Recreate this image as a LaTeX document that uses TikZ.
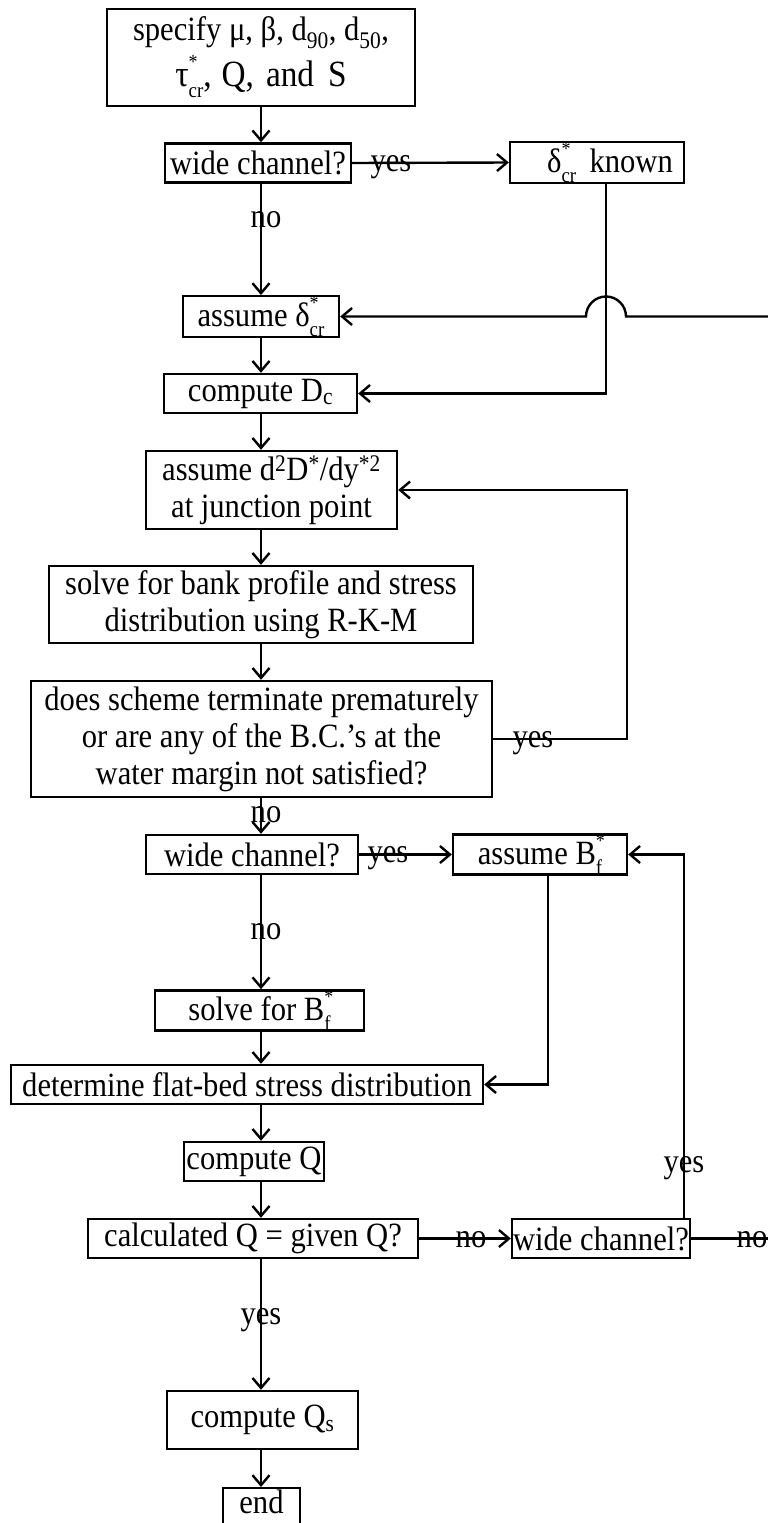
\documentclass[tikz,border=0pt]{standalone}
\usepackage{fontspec}
\setmainfont[FakeStretch=0.9]{Liberation Serif}
\usetikzlibrary{arrows.meta}
\newcommand{\supsub}[2]{\rlap{\raisebox{0.5em}{\fontsize{20}{20}\selectfont #1}}\raisebox{-0.3em}{\fontsize{21}{21}\selectfont #2}}

\begin{document}
\begin{tikzpicture}[x=1pt, y=-1pt, line width=2.4pt,
  every node/.style={font=\fontsize{34}{37}\selectfont, inner sep=0pt},
  stepbox/.style={draw, minimum height=39pt, align=center},
  lbl/.style={anchor=base},
  arr/.style={-{Straight Barb[length=10pt, width=17pt]}}]
  \useasboundingbox (0,0) rectangle (768,1523);
  \clip (0,0) rectangle (768,1523);

  % boxes
  \node[stepbox, minimum width=308pt, minimum height=97pt] (spec) at (261, 57.5)
    {specify μ, β, d\textsubscript{90}, d\textsubscript{50},\\[6pt]
     {\fontsize{37}{40}\selectfont τ\supsub{*}{cr},\hspace{10pt}Q,\hspace{12pt}and\hspace{14pt}S}};
  \node[stepbox, minimum width=186pt] (wide1) at (258, 163) {wide channel?};
  \node[stepbox, minimum width=174pt] (known) at (597, 162.5) {\hspace{26pt}δ\supsub{*}{cr}\, known};
  \node[stepbox, minimum width=156pt] (assumeD) at (261, 316.5) {assume δ\supsub{*}{cr}};
  \node[stepbox, minimum width=193pt] (compD) at (260.5, 393.5) {compute D\textsubscript{c}};
  \node[stepbox, minimum width=251pt, minimum height=78pt] (d2D) at (271.5, 490)
    {assume d\textsuperscript{2}D\textsuperscript{*}/dy\textsuperscript{*2}\\ at junction point};
  \node[stepbox, minimum width=424pt, minimum height=77pt] (solve) at (261, 604.5)
    {solve for bank profile and stress\\ distribution using R-K-M};
  \node[stepbox, minimum width=461pt, minimum height=116pt] (does) at (261.5, 739)
    {does scheme terminate prematurely\\ or are any of the B.C.’s at the\\ water margin not satisfied?};
  \node[stepbox, minimum width=212pt] (wide2) at (252, 854.5) {wide channel?};
  \node[stepbox, minimum width=174pt] (assumeB) at (540, 854.5) {assume B\supsub{*}{f}};
  \node[stepbox, minimum width=209pt] (solveB) at (259.5, 1010.5) {solve for B\supsub{*}{f}};
  \node[stepbox, minimum width=472pt] (determine) at (247, 1084.5) {determine flat-bed stress distribution};
  \node[stepbox, minimum width=140pt] (computeQ) at (254, 1161.5) {compute Q};
  \node[stepbox, minimum width=330pt] (calc) at (253, 1238.5) {calculated Q = given Q?};
  \node[stepbox, minimum width=178pt] (wide3) at (601, 1238.5) {wide channel?};
  \node[stepbox, minimum width=191pt, minimum height=58pt] (computeQs) at (262.5, 1420) {compute Q\textsubscript{s}};
  \node[draw, minimum width=77pt, anchor=north, inner ysep=3pt, text height=22pt, text depth=30pt] (end) at (261.5, 1487) {end};

  % labels
  \node[lbl] (yes1) at (391, 171) {yes};
  \node[lbl] (no1) at (266, 227) {no};
  \node[lbl] (yes2) at (533, 747) {yes};
  \node[lbl] (no2) at (266, 822) {no};
  \node[lbl] (yes3) at (388, 862) {yes};
  \node[lbl] (no3) at (266, 939) {no};
  \node[lbl] (yes4) at (684, 1172) {yes};
  \node[lbl] (no4) at (471, 1247) {no};
  \node[lbl] (no5) at (752, 1247) {no};
  \node[lbl] (yes5) at (261, 1324) {yes};

  \coordinate (spine) at (261, 0);
  \coordinate (offA) at (768, 316.5);
  \coordinate (offB) at (768, 1238.5);
  \coordinate (jump) at ([xshift=9pt]known.south |- assumeD.east);

  % connectors
  \draw[arr] (spec.south -| spine) -- (wide1.north -| spine);
  \draw[arr] (wide1.east) -- (known.west);
  \draw[arr] (wide1.south -| spine) -- (assumeD.north -| spine);
  \draw[arr] ([xshift=9pt]known.south) |- (compD.east);
  \draw[arr] (offA) -- ([xshift=20pt]jump) arc[start angle=0, end angle=180, radius=20pt] -- (assumeD.east);
  \draw[arr] (assumeD.south -| spine) -- (compD.north -| spine);
  \draw[arr] (compD.south -| spine) -- (d2D.north -| spine);
  \draw[arr] (d2D.south -| spine) -- (solve.north -| spine);
  \draw[arr] (solve.south -| spine) -- (does.north -| spine);
  \draw[arr] (does.east) -- ++(134, 0) |- (d2D.east);
  \draw[arr] (does.south -| spine) -- (wide2.north -| spine);
  \draw[arr] (wide2.east) -- (assumeB.west);
  \draw[arr] (wide2.south -| spine) -- (solveB.north -| spine);
  \draw[arr] ([xshift=8pt]assumeB.south) |- (determine.east);
  \draw[arr] (solveB.south -| spine) -- (determine.north -| spine);
  \draw[arr] (determine.south -| spine) -- (computeQ.north -| spine);
  \draw[arr] (computeQ.south -| spine) -- (calc.north -| spine);
  \draw[arr] (calc.east) -- (wide3.west);
  \draw (wide3.east) -- (offB);
  \draw[arr] ([xshift=83pt]wide3.north) |- (assumeB.east);
  \draw[arr] (calc.south -| spine) -- (computeQs.north -| spine);
  \draw[arr] (computeQs.south -| spine) -- (end.north -| spine);
\end{tikzpicture}
\end{document}
